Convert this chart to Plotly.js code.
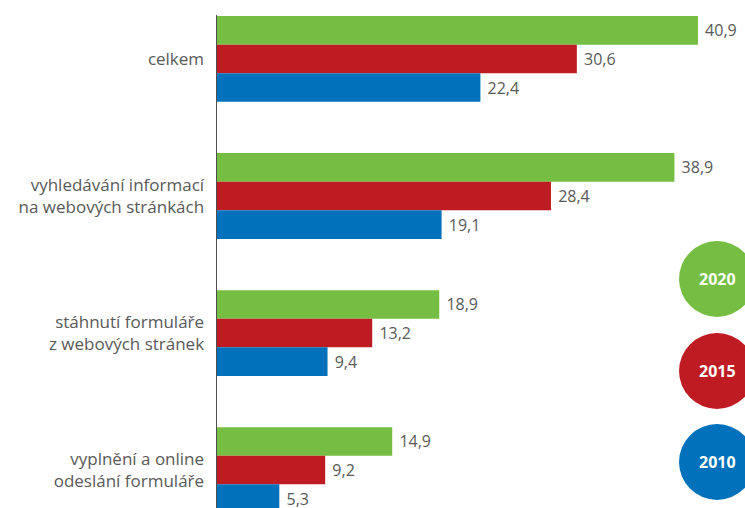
<!DOCTYPE html>
<html>
<head>
<meta charset="utf-8">
<script src="https://cdn.plot.ly/plotly-3.0.1.min.js"></script>
<style>html,body{margin:0;padding:0;background:#fff;}#chart{width:745px;height:508px;}</style>
</head>
<body>
<div id="chart"></div>
<script>
const categories = ['celkem', 'vyhledávání informací<br>na webových stránkách', 'stáhnutí formuláře<br>z webových stránek', 'vyplnění a online<br>odeslání formuláře'];
const years = ['2020', '2015', '2010'];
const v2020 = [40.9, 38.9, 18.9, 14.9];
const v2015 = [30.6, 28.4, 13.2, 9.2];
const v2010 = [22.4, 19.1, 9.4, 5.3];
const colors = ['#76BD43', '#BE1B22', '#0071BA'];

const series = [v2020, v2015, v2010];
const fmt = v => '\u00a0' + v.toFixed(1).replace('.', ',');

const traces = series.map((vals, i) => ({
  type: 'bar',
  orientation: 'h',
  name: years[i],
  y: categories,
  x: vals,
  text: vals.map(fmt),
  textposition: 'outside',
  textfont: {family: 'Open Sans', size: 16, color: '#595959'},
  outsidetextfont: {family: 'Open Sans', size: 16, color: '#595959'},
  cliponaxis: false,
  marker: {color: colors[i]},
  hoverinfo: 'none'
}));

const circlePos = [0.4645, 0.2779, 0.0933];
const shapes = years.map((y, i) => ({
  type: 'circle', xref: 'paper', yref: 'paper',
  xsizemode: 'pixel', ysizemode: 'pixel',
  xanchor: 0.947, yanchor: circlePos[i],
  x0: -38, x1: 38, y0: -38, y1: 38,
  fillcolor: colors[i], line: {width: 0}
}));
const annotations = years.map((y, i) => ({
  xref: 'paper', yref: 'paper', x: 0.947, y: circlePos[i],
  text: '<b>' + y + '</b>', showarrow: false,
  font: {family: 'Open Sans', size: 16, color: '#ffffff'},
  xanchor: 'center', yanchor: 'middle'
}));

const layout = {
  width: 745, height: 508,
  margin: {l: 217, r: 0, t: 15, b: 0, pad: 0},
  paper_bgcolor: '#ffffff', plot_bgcolor: '#ffffff',
  showlegend: false,
  barmode: 'group', bargap: 0.374, bargroupgap: 0,
  xaxis: {range: [0, 44.9], visible: false, fixedrange: true},
  yaxis: {
    type: 'category', categoryorder: 'array', categoryarray: categories,
    range: [3.277, -0.321],
    showline: true, linecolor: '#4d4d4d', linewidth: 1.5,
    showgrid: false, zeroline: false, ticks: '',
    ticklabelstandoff: 8,
    tickfont: {family: 'Open Sans', size: 17, color: '#595959'}
  },
  shapes: shapes,
  annotations: annotations
};

Plotly.newPlot('chart', traces, layout, {displayModeBar: false, staticPlot: true});
</script>
</body>
</html>
